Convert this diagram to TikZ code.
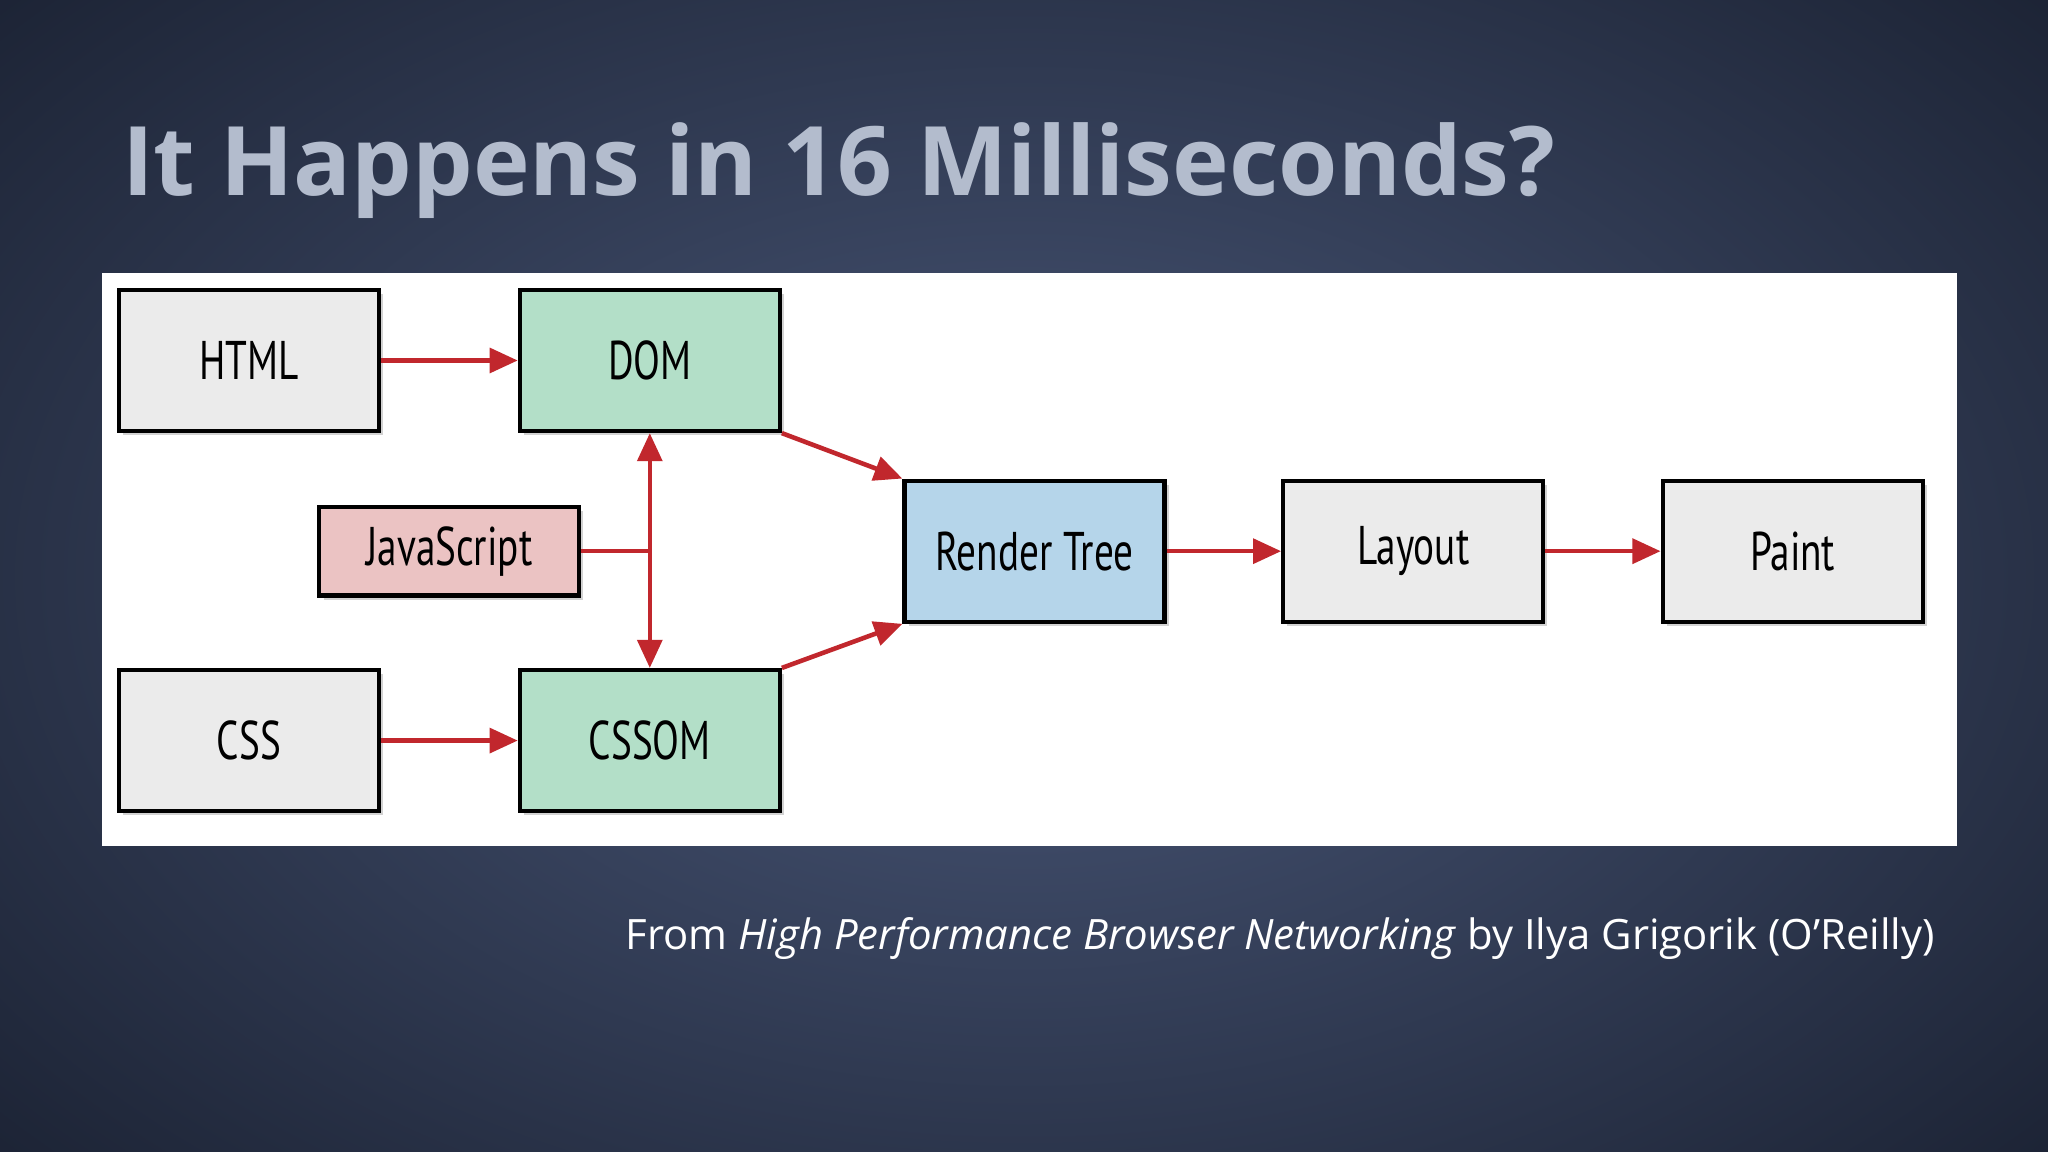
\documentclass[tikz,border=0pt]{standalone}
\usepackage{fontspec}
\setmainfont{Open Sans}
\newfontfamily\boxfont[FakeStretch=0.72]{PT Sans}
\usetikzlibrary{arrows.meta,shadows}
\definecolor{bgdark}{HTML}{1B2233}
\definecolor{bglight}{HTML}{4A5879}
\definecolor{titlec}{HTML}{B3BCCD}
\definecolor{gbox}{HTML}{EBEBEB}
\definecolor{grbox}{HTML}{B3DFC8}
\definecolor{pbox}{HTML}{EBC3C3}
\definecolor{bbox}{HTML}{B5D5EA}
\definecolor{arr}{HTML}{C1272D}
\begin{document}
\begin{tikzpicture}[x=0.013061cm,y=-0.013061cm,
  bx/.style={draw=black,line width=1.2pt,minimum width=199*0.013061cm,minimum height=108*0.013061cm,
    font=\boxfont\fontsize{15.5}{19}\selectfont,drop shadow={shadow xshift=1.2pt,shadow yshift=-1.2pt,opacity=0.35},inner sep=0pt},
  ar/.style={draw=arr,line width=1.3pt,-{Triangle[length=8pt,width=7pt]}}]
\useasboundingbox (0,0) rectangle (1568,882);
\fill[bgdark] (0,0) rectangle (1568,882);
\shade[inner color=bglight,outer color=bgdark] (-300,-250) rectangle (1868,1132);
\node[anchor=base west,text=titlec,font=\bfseries\fontsize{27.3}{32}\selectfont,inner sep=0pt] (title) at (93,150) {It Happens in 16 Milliseconds?};
\fill[white] (78,209) rectangle (1498,648);
\node[bx,fill=gbox] (html) at (190.5,276) {HTML};
\node[bx,fill=grbox] (dom) at (497.5,276) {DOM};
\node[bx,fill=pbox,minimum height=68*0.013061cm] (js) at (344,422) {JavaScript};
\node[bx,fill=gbox] (css) at (190.5,567) {CSS};
\node[bx,fill=grbox] (cssom) at (497.5,567) {CSSOM};
\node[bx,fill=bbox] (rt) at (792,422) {Render Tree};
\node[bx,fill=gbox] (lay) at (1082,422) {Layout};
\node[bx,fill=gbox] (paint) at (1372.5,422) {Paint};
\coordinate (jn) at (497.5,422);
\draw[ar] (html) -- (dom);
\draw[ar] (css) -- (cssom);
\draw[ar] (rt) -- (lay);
\draw[ar] (lay) -- (paint);
\draw[ar,{Triangle[length=8pt,width=7pt]}-{Triangle[length=8pt,width=7pt]}] (dom) -- (cssom);
\draw[draw=arr,line width=1.3pt] (js) -- (jn);
\draw[ar] (dom.south east) -- (rt.north west);
\draw[ar] (cssom.north east) -- (rt.south west);
\node[anchor=base east,text=white,font=\fontsize{11.9}{14}\selectfont,inner sep=0pt] (cap) at (1482,727) {From \textit{High Performance Browser Networking} by Ilya Grigorik (O'Reilly)};
\end{tikzpicture}
\end{document}
